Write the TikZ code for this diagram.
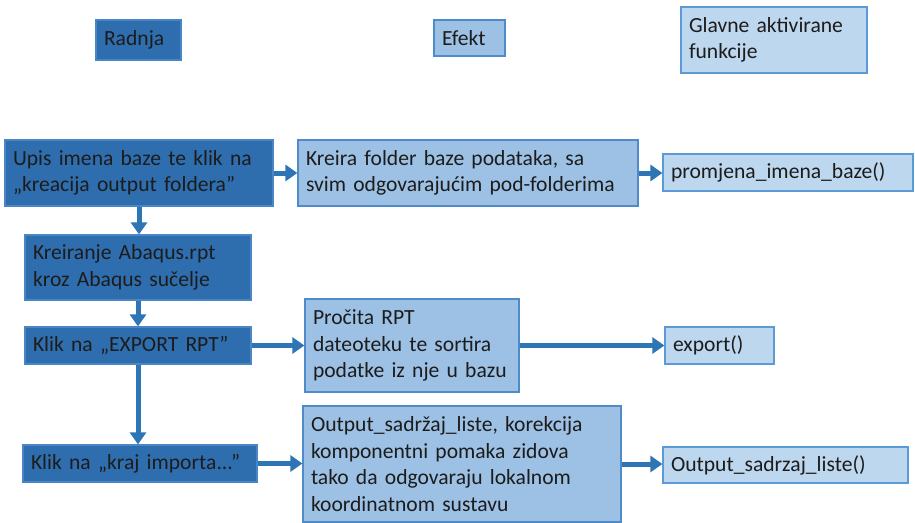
\documentclass[tikz,border=0pt]{standalone}
\usepackage{fontspec}
\setmainfont{Carlito}
\usetikzlibrary{arrows.meta}

\definecolor{darkbox}{HTML}{2F6EAE}
\definecolor{darkedge}{HTML}{4A86C5}
\definecolor{midbox}{HTML}{9DC1E4}
\definecolor{midedge}{HTML}{4F8AC9}
\definecolor{lightbox}{HTML}{BDD7EE}
\definecolor{lightedge}{HTML}{5B9BD5}
\definecolor{arrowblue}{HTML}{2E75B6}
\definecolor{boxtext}{HTML}{1C1C1C}

\newcommand{\boxfont}{\fontsize{21.6}{26.5}\selectfont\spaceskip=4.6pt plus 1pt minus 0.5pt\relax}

\begin{document}
\begin{tikzpicture}[x=1pt,y=-1pt,
        font=\boxfont,
        >={Triangle[length=12pt,width=16pt]},
        base/.style={draw, line width=1.2pt, text=boxtext, align=left, inner xsep=8pt, inner ysep=0pt},
        size/.style 2 args={text width=#1pt, minimum width=#1pt+16pt, minimum height=#2pt},
        dark/.style={base, fill=darkbox, draw=darkedge},
        mid/.style={base, fill=midbox, draw=midedge},
        light/.style={base, fill=lightbox, draw=lightedge},
        arr/.style={->, line width=5pt, draw=arrowblue, fill=arrowblue}]
    \useasboundingbox (0,0) rectangle (915,522);

    % column headers
    \node[dark, size={69}{40}] (radnja) at (138.5,40) {Radnja};
    \node[mid, size={55}{36}] (efekt) at (469.5,38) {Efekt};
    \node[light, size={170}{66}] (glavne) at (774,40) {Glavne aktivirane\\funkcije};

    % first step
    \node[dark, size={252}{66}] (upis) at (139,173) {Upis imena baze te klik na\\„kreacija output foldera”};
    \node[mid, size={324}{66}] (kreira) at (468,173) {Kreira folder baze podataka, sa\\svim odgovarajućim pod-folderima};
    \node[light, size={234}{37}] (promjena) at (788,172.5) {promjena\_imena\_baze()};

    % abaqus
    \node[dark, size={210}{65}] (kreiranje) at (138,267.5) {Kreiranje Abaqus.rpt\\kroz Abaqus sučelje};

    % export
    \node[dark, size={210}{37}] (klikexp) at (138,345.5) {Klik na „EXPORT RPT”};
    \node[mid, size={198}{93}] (procita) at (412,345.5) {Pročita RPT\\dateoteku te sortira\\podatke iz nje u bazu};
    \node[light, size={93}{37}] (exportfn) at (719.5,345.5) {export()};

    % kraj importa
    \node[dark, size={218}{37}] (kraj) at (140,463.5) {Klik na „kraj importa...”};
    \node[mid, size={302}{116}] (output) at (462,464) {Output\_sadržaj\_liste, korekcija\\komponentni pomaka zidova\\tako da odgovaraju lokalnom\\koordinatnom sustavu};
    \node[light, size={229}{36}] (outfn) at (785.5,465) {Output\_sadrzaj\_liste()};

    % arrows
    \draw[arr] (upis.east) -- (kreira.west);
    \draw[arr] (kreira.east) -- (kreira.east -| promjena.west);
    \draw[arr] (upis.south) -- (upis.south |- kreiranje.north);
    \draw[arr] (kreiranje.south) -- (klikexp.north);
    \draw[arr] (klikexp.east) -- (klikexp.east -| procita.west);
    \draw[arr] (procita.east) -- (procita.east -| exportfn.west);
    \draw[arr] (klikexp.south) -- (klikexp.south |- kraj.north);
    \draw[arr] (kraj.east) -- (kraj.east -| output.west);
    \draw[arr] (output.east) -- (output.east -| outfn.west);
\end{tikzpicture}
\end{document}
